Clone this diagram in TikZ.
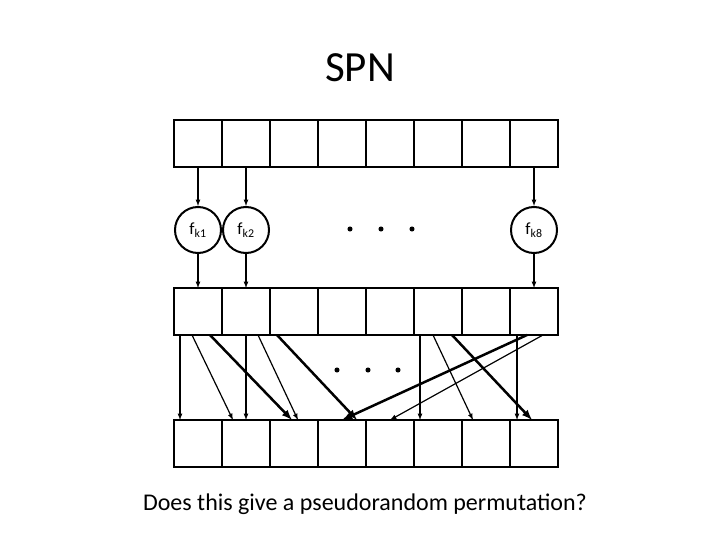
\documentclass[tikz,border=0pt]{standalone}
\usepackage{fontspec}
\setmainfont{Carlito}
\begin{document}
\begin{tikzpicture}[x=1pt,y=-1pt,
 cell/.style={draw,line width=2.8pt,minimum width=48pt,minimum height=47pt,inner sep=0,outer sep=0},
 fbox/.style={draw,line width=2pt,circle,minimum size=46pt,inner sep=0,font=\fontsize{17}{19}\selectfont},
 thin/.style={-latex,line width=1.2pt},
 thick/.style={-latex,line width=2.5pt},
 dot/.style={fill,circle,inner sep=1.8pt}]
\useasboundingbox (0,0) rectangle (720,540);
\node (title) at (360,68) {\fontsize{43}{48}\selectfont SPN};
\foreach \i in {0,...,7}{
  \node[cell] (t\i) at (198+48*\i,143.5) {};
  \node[cell] (m\i) at (198+48*\i,311.5) {};
  \node[cell] (b\i) at (198+48*\i,443.5) {};
}
\node[fbox] (f1) at (198,230) {f\textsubscript{k1}};
\node[fbox] (f2) at (246,230) {f\textsubscript{k2}};
\node[fbox] (f8) at (534,230) {f\textsubscript{k8}};
\node[dot] (d1) at (350,229) {};
\node[dot] (d2) at (381,229) {};
\node[dot] (d3) at (412,229) {};
\node[dot] (e1) at (337,370) {};
\node[dot] (e2) at (368,370) {};
\node[dot] (e3) at (398,370) {};
\draw[thin] (t0.south) -- (f1.north);
\draw[thin] (t1.south) -- (f2.north);
\draw[thin] (t7.south) -- (f8.north);
\draw[thin] (f1.south) -- (m0.north);
\draw[thin] (f2.south) -- (m1.north);
\draw[thin] (f8.south) -- (m7.north);
\coordinate (s1) at (180,335); \coordinate (e1a) at (180,420);
\coordinate (s2) at (192,335); \coordinate (e2a) at (233,420);
\coordinate (s3) at (210,335); \coordinate (e3a) at (292,420);
\coordinate (s4) at (246,335); \coordinate (e4a) at (246,420);
\coordinate (s5) at (258,335); \coordinate (e5a) at (298,420);
\coordinate (s6) at (277,335); \coordinate (e6a) at (357,420);
\coordinate (s7) at (420,335); \coordinate (e7a) at (420,420);
\coordinate (s8) at (433,335); \coordinate (e8a) at (473,420);
\coordinate (s9) at (452,335); \coordinate (e9a) at (532,420);
\coordinate (s10) at (517,335); \coordinate (e10a) at (517,420);
\coordinate (s11) at (527,335); \coordinate (e11a) at (342,420);
\coordinate (s12) at (543,335); \coordinate (e12a) at (390,420);
\foreach \k in {1,2,4,5,7,8,10,12}{\draw[thin] (s\k) -- (e\k a);}
\foreach \k in {3,6,9,11}{\draw[thick] (s\k) -- (e\k a);}
\node (q) at (365,504) {\fontsize{24}{28}\selectfont Does this give a pseudorandom permutation?};
\end{tikzpicture}
\end{document}
